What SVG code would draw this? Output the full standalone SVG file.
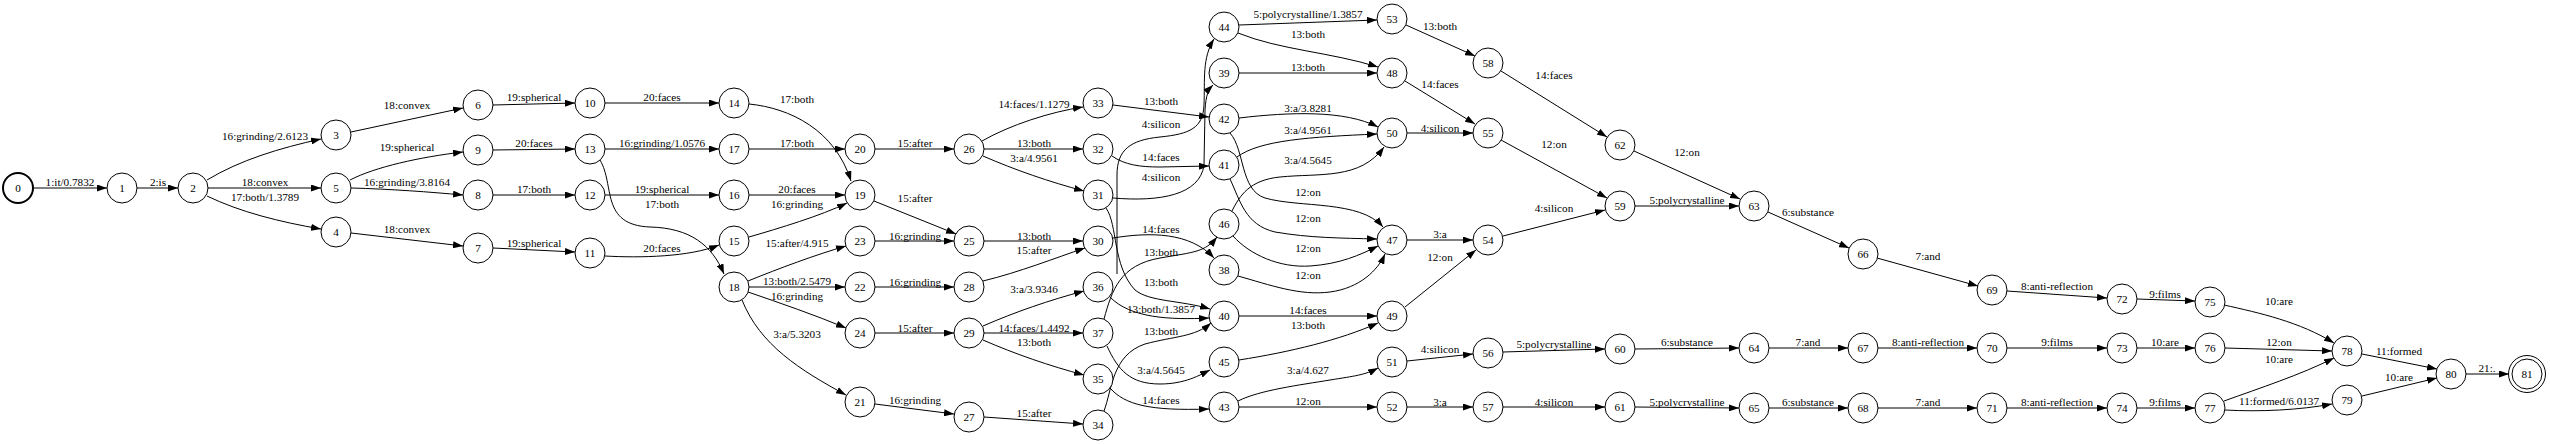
<svg xmlns="http://www.w3.org/2000/svg" width="2550" height="444" viewBox="0 0 2550 444">
<defs>
<marker id="arr" markerWidth="10" markerHeight="7" refX="10" refY="3.5" orient="auto" markerUnits="userSpaceOnUse"><path d="M0,0 L10,3.5 L0,7 z" fill="#000"/></marker>
</defs>
<style>
.n circle{fill:#fff;stroke:#000;stroke-width:1}
.n text,.e text{font-family:"Liberation Serif","Times New Roman",serif;font-size:11.2px;text-anchor:middle;fill:#000}
.e path{fill:none;stroke:#000;stroke-width:1;marker-end:url(#arr)}
</style>
<rect width="2550" height="444" fill="#fff"/>
<g id="edges">
<g class="e"><path d="M33,188 L107,188"/><text x="70" y="186">1:it/0.7832</text></g>
<g class="e"><path d="M137,188 L178,188"/><text x="158" y="186">2:is</text></g>
<g class="e"><path d="M207,180 C240,160 280,148 321,139"/><text x="265" y="140">16:grinding/2.6123</text></g>
<g class="e"><path d="M208,188 L321,188"/><text x="265" y="186">18:convex</text></g>
<g class="e"><path d="M207,196 C240,212 280,222 321,229"/><text x="265" y="201">17:both/1.3789</text></g>
<g class="e"><path d="M351,132 L463,108"/><text x="407" y="109">18:convex</text></g>
<g class="e"><path d="M350,180 C375,167 420,157 463,152"/><text x="407" y="151">19:spherical</text></g>
<g class="e"><path d="M351,188 C390,189 430,192 463,195"/><text x="407" y="186">16:grinding/3.8164</text></g>
<g class="e"><path d="M351,233 L463,246"/><text x="407" y="233">18:convex</text></g>
<g class="e"><path d="M493,105 L575,103"/><text x="534" y="101">19:spherical</text></g>
<g class="e"><path d="M493,150 L575,149"/><text x="534" y="147">20:faces</text></g>
<g class="e"><path d="M493,195 L575,195"/><text x="534" y="193">17:both</text></g>
<g class="e"><path d="M493,248 L575,252"/><text x="534" y="247">19:spherical</text></g>
<g class="e"><path d="M605,103 L719,103"/><text x="662" y="101">20:faces</text></g>
<g class="e"><path d="M605,149 L719,149"/><text x="662" y="147">16:grinding/1.0576</text></g>
<g class="e"><path d="M605,195 L719,195"/><text x="662" y="193">19:spherical</text></g>
<g class="e"><path d="M600,160 C615,185 600,225 650,227 C690,228 712,245 724,274"/><text x="662" y="208">17:both</text></g>
<g class="e"><path d="M605,256 C640,258 690,257 719,245"/><text x="662" y="252">20:faces</text></g>
<g class="e"><path d="M749,104 C790,108 835,130 851,181"/><text x="797" y="103">17:both</text></g>
<g class="e"><path d="M749,149 L845,149"/><text x="797" y="147">17:both</text></g>
<g class="e"><path d="M749,195 L845,195"/><text x="797" y="193">20:faces</text></g>
<g class="e"><path d="M749,237 C780,228 820,216 847,203"/><text x="797" y="208">16:grinding</text></g>
<g class="e"><path d="M748,281 C780,268 815,255 846,246"/><text x="797" y="247">15:after/4.915</text></g>
<g class="e"><path d="M749,287 L845,287"/><text x="797" y="285">13:both/2.5479</text></g>
<g class="e"><path d="M748,292 C780,303 815,315 846,328"/><text x="797" y="300">16:grinding</text></g>
<g class="e"><path d="M742,300 C760,345 800,370 846,395"/><text x="797" y="338">3:a/5.3203</text></g>
<g class="e"><path d="M875,149 L954,149"/><text x="915" y="147">15:after</text></g>
<g class="e"><path d="M874,201 L956,234"/><text x="915" y="202">15:after</text></g>
<g class="e"><path d="M875,241 L954,241"/><text x="915" y="240">16:grinding</text></g>
<g class="e"><path d="M875,287 L954,287"/><text x="915" y="286">16:grinding</text></g>
<g class="e"><path d="M875,333 L954,333"/><text x="915" y="332">15:after</text></g>
<g class="e"><path d="M875,404 L954,414"/><text x="915" y="404">16:grinding</text></g>
<g class="e"><path d="M982,141 C1010,125 1050,112 1083,107"/><text x="1034" y="108">14:faces/1.1279</text></g>
<g class="e"><path d="M984,149 L1083,149"/><text x="1034" y="147">13:both</text></g>
<g class="e"><path d="M983,156 C1015,170 1050,182 1084,191"/><text x="1034" y="162">3:a/4.9561</text></g>
<g class="e"><path d="M984,241 L1083,241"/><text x="1034" y="240">13:both</text></g>
<g class="e"><path d="M983,281 C1020,272 1055,258 1085,248"/><text x="1034" y="254">15:after</text></g>
<g class="e"><path d="M983,326 C1015,312 1050,300 1084,291"/><text x="1034" y="293">3:a/3.9346</text></g>
<g class="e"><path d="M984,333 L1083,333"/><text x="1034" y="332">14:faces/1.4492</text></g>
<g class="e"><path d="M983,340 C1015,354 1050,366 1084,375"/><text x="1034" y="346">13:both</text></g>
<g class="e"><path d="M984,417 L1083,424"/><text x="1034" y="417">15:after</text></g>
<g class="e"><path d="M1113,105 L1209,117"/><text x="1161" y="105">13:both</text></g>
<g class="e"><path d="M1117,274 L1117,175 C1117,150 1130,140 1160,137 C1190,134 1203,128 1204,105 C1205,80 1202,58 1214,39"/><text x="1161" y="128">4:silicon</text></g>
<g class="e"><path d="M1112,156 C1125,165 1140,167 1160,167 L1209,166"/><text x="1161" y="161">14:faces</text></g>
<g class="e"><path d="M1113,198 C1160,202 1200,195 1204,165 L1205,110 C1206,95 1208,90 1213,85"/><text x="1161" y="181">4:silicon</text></g>
<g class="e"><path d="M1113,238 C1150,232 1190,232 1214,258"/><text x="1161" y="233">14:faces</text></g>
<g class="e"><path d="M1104,319 C1112,290 1120,265 1160,258 C1195,252 1205,252 1217,237"/><text x="1161" y="256">13:both</text></g>
<g class="e"><path d="M1106,208 C1118,225 1112,265 1135,290 C1150,302 1180,300 1210,309"/><text x="1161" y="286">13:both</text></g>
<g class="e"><path d="M1110,297 C1130,318 1170,320 1209,318"/><text x="1161" y="313">13:both/1.3857</text></g>
<g class="e"><path d="M1104,411 C1112,390 1112,355 1145,344 C1175,336 1195,337 1211,323"/><text x="1161" y="335">13:both</text></g>
<g class="e"><path d="M1107,346 C1118,370 1130,384 1160,384 C1185,384 1200,375 1210,370"/><text x="1161" y="374">3:a/4.5645</text></g>
<g class="e"><path d="M1110,388 C1125,405 1150,411 1209,409"/><text x="1161" y="404">14:faces</text></g>
<g class="e"><path d="M1239,25 L1377,20"/><text x="1308" y="18">5:polycrystalline/1.3857</text></g>
<g class="e"><path d="M1238,33 C1280,50 1330,52 1378,67"/><text x="1308" y="38">13:both</text></g>
<g class="e"><path d="M1239,73 L1377,73"/><text x="1308" y="71">13:both</text></g>
<g class="e"><path d="M1239,118 C1290,112 1345,110 1378,127"/><text x="1308" y="112">3:a/3.8281</text></g>
<g class="e"><path d="M1237,157 C1260,140 1310,137 1377,134"/><text x="1308" y="134">3:a/4.9561</text></g>
<g class="e"><path d="M1232,211 C1240,195 1250,180 1280,177 C1320,173 1360,180 1384,147"/><text x="1308" y="164">3:a/4.5645</text></g>
<g class="e"><path d="M1230,133 C1245,150 1240,190 1265,198 C1300,208 1360,200 1383,227"/><text x="1308" y="196">12:on</text></g>
<g class="e"><path d="M1230,179 C1240,200 1245,225 1275,232 C1310,238 1340,238 1377,239"/><text x="1308" y="222">12:on</text></g>
<g class="e"><path d="M1233,236 C1250,255 1280,268 1310,266 C1340,264 1360,255 1378,246"/><text x="1308" y="252">12:on</text></g>
<g class="e"><path d="M1238,276 C1270,285 1300,296 1330,292 C1360,288 1378,270 1385,254"/><text x="1308" y="279">12:on</text></g>
<g class="e"><path d="M1239,316 L1377,316"/><text x="1308" y="314">14:faces</text></g>
<g class="e"><path d="M1239,360 C1290,352 1340,340 1378,323"/><text x="1308" y="329">13:both</text></g>
<g class="e"><path d="M1238,401 C1260,390 1300,385 1330,380 C1355,376 1365,375 1378,368"/><text x="1308" y="374">3:a/4.627</text></g>
<g class="e"><path d="M1239,407 L1377,407"/><text x="1308" y="405">12:on</text></g>
<g class="e"><path d="M1406,25 L1475,56"/><text x="1440" y="30">13:both</text></g>
<g class="e"><path d="M1405,81 L1475,124"/><text x="1440" y="88">14:faces</text></g>
<g class="e"><path d="M1407,133 L1473,133"/><text x="1440" y="132">4:silicon</text></g>
<g class="e"><path d="M1407,240 L1473,240"/><text x="1440" y="238">3:a</text></g>
<g class="e"><path d="M1405,307 L1476,250"/><text x="1440" y="261">12:on</text></g>
<g class="e"><path d="M1407,361 L1473,354"/><text x="1440" y="353">4:silicon</text></g>
<g class="e"><path d="M1407,407 L1473,407"/><text x="1440" y="406">3:a</text></g>
<g class="e"><path d="M1501,71 L1607,137"/><text x="1554" y="79">14:faces</text></g>
<g class="e"><path d="M1501,140 L1607,198"/><text x="1554" y="148">12:on</text></g>
<g class="e"><path d="M1503,236 L1605,210"/><text x="1554" y="212">4:silicon</text></g>
<g class="e"><path d="M1503,352 L1605,349"/><text x="1554" y="348">5:polycrystalline</text></g>
<g class="e"><path d="M1503,407 L1605,407"/><text x="1554" y="406">4:silicon</text></g>
<g class="e"><path d="M1634,151 L1740,199"/><text x="1687" y="156">12:on</text></g>
<g class="e"><path d="M1635,206 L1739,206"/><text x="1687" y="204">5:polycrystalline</text></g>
<g class="e"><path d="M1635,349 L1739,348"/><text x="1687" y="346">6:substance</text></g>
<g class="e"><path d="M1635,407 L1739,408"/><text x="1687" y="406">5:polycrystalline</text></g>
<g class="e"><path d="M1768,212 L1849,248"/><text x="1808" y="216">6:substance</text></g>
<g class="e"><path d="M1877,258 L1978,286"/><text x="1928" y="260">7:and</text></g>
<g class="e"><path d="M1769,348 L1848,348"/><text x="1808" y="346">7:and</text></g>
<g class="e"><path d="M1878,348 L1977,348"/><text x="1928" y="346">8:anti-reflection</text></g>
<g class="e"><path d="M2007,348 L2107,348"/><text x="2057" y="346">9:films</text></g>
<g class="e"><path d="M1769,408 L1848,408"/><text x="1808" y="406">6:substance</text></g>
<g class="e"><path d="M1878,408 L1977,408"/><text x="1928" y="406">7:and</text></g>
<g class="e"><path d="M2007,408 L2107,408"/><text x="2057" y="406">8:anti-reflection</text></g>
<g class="e"><path d="M2007,291 L2107,298"/><text x="2057" y="290">8:anti-reflection</text></g>
<g class="e"><path d="M2137,299 L2195,301"/><text x="2165" y="298">9:films</text></g>
<g class="e"><path d="M2137,348 L2195,348"/><text x="2165" y="346">10:are</text></g>
<g class="e"><path d="M2137,408 L2195,408"/><text x="2165" y="406">9:films</text></g>
<g class="e"><path d="M2224,305 C2260,313 2300,322 2334,343"/><text x="2279" y="305">10:are</text></g>
<g class="e"><path d="M2225,348 L2332,351"/><text x="2279" y="346">12:on</text></g>
<g class="e"><path d="M2224,401 C2260,388 2300,375 2334,358"/><text x="2279" y="363">10:are</text></g>
<g class="e"><path d="M2225,410 C2260,412 2300,410 2332,404"/><text x="2279" y="405">11:formed/6.0137</text></g>
<g class="e"><path d="M2362,354 L2437,369"/><text x="2399" y="355">11:formed</text></g>
<g class="e"><path d="M2362,396 L2437,378"/><text x="2399" y="381">10:are</text></g>
<g class="e"><path d="M2466,374 L2509,374"/><text x="2487" y="372">21:.</text></g>
</g>
<g id="n0" class="n"><circle cx="18" cy="188" r="15" style="stroke-width:2"/><text x="18" y="192">0</text></g>
<g id="n1" class="n"><circle cx="122" cy="188" r="15"/><text x="122" y="192">1</text></g>
<g id="n2" class="n"><circle cx="193" cy="188" r="15"/><text x="193" y="192">2</text></g>
<g id="n3" class="n"><circle cx="336" cy="135" r="15"/><text x="336" y="139">3</text></g>
<g id="n4" class="n"><circle cx="336" cy="232" r="15"/><text x="336" y="236">4</text></g>
<g id="n5" class="n"><circle cx="336" cy="188" r="15"/><text x="336" y="192">5</text></g>
<g id="n6" class="n"><circle cx="478" cy="105" r="15"/><text x="478" y="109">6</text></g>
<g id="n7" class="n"><circle cx="478" cy="248" r="15"/><text x="478" y="252">7</text></g>
<g id="n8" class="n"><circle cx="478" cy="195" r="15"/><text x="478" y="199">8</text></g>
<g id="n9" class="n"><circle cx="478" cy="150" r="15"/><text x="478" y="154">9</text></g>
<g id="n10" class="n"><circle cx="590" cy="103" r="15"/><text x="590" y="107">10</text></g>
<g id="n11" class="n"><circle cx="590" cy="253" r="15"/><text x="590" y="257">11</text></g>
<g id="n12" class="n"><circle cx="590" cy="195" r="15"/><text x="590" y="199">12</text></g>
<g id="n13" class="n"><circle cx="590" cy="149" r="15"/><text x="590" y="153">13</text></g>
<g id="n14" class="n"><circle cx="734" cy="103" r="15"/><text x="734" y="107">14</text></g>
<g id="n15" class="n"><circle cx="734" cy="241" r="15"/><text x="734" y="245">15</text></g>
<g id="n16" class="n"><circle cx="734" cy="195" r="15"/><text x="734" y="199">16</text></g>
<g id="n17" class="n"><circle cx="734" cy="149" r="15"/><text x="734" y="153">17</text></g>
<g id="n18" class="n"><circle cx="734" cy="287" r="15"/><text x="734" y="291">18</text></g>
<g id="n19" class="n"><circle cx="860" cy="195" r="15"/><text x="860" y="199">19</text></g>
<g id="n20" class="n"><circle cx="860" cy="149" r="15"/><text x="860" y="153">20</text></g>
<g id="n21" class="n"><circle cx="860" cy="402" r="15"/><text x="860" y="406">21</text></g>
<g id="n22" class="n"><circle cx="860" cy="287" r="15"/><text x="860" y="291">22</text></g>
<g id="n23" class="n"><circle cx="860" cy="241" r="15"/><text x="860" y="245">23</text></g>
<g id="n24" class="n"><circle cx="860" cy="333" r="15"/><text x="860" y="337">24</text></g>
<g id="n25" class="n"><circle cx="969" cy="241" r="15"/><text x="969" y="245">25</text></g>
<g id="n26" class="n"><circle cx="969" cy="149" r="15"/><text x="969" y="153">26</text></g>
<g id="n27" class="n"><circle cx="969" cy="417" r="15"/><text x="969" y="421">27</text></g>
<g id="n28" class="n"><circle cx="969" cy="287" r="15"/><text x="969" y="291">28</text></g>
<g id="n29" class="n"><circle cx="969" cy="333" r="15"/><text x="969" y="337">29</text></g>
<g id="n30" class="n"><circle cx="1098" cy="241" r="15"/><text x="1098" y="245">30</text></g>
<g id="n31" class="n"><circle cx="1098" cy="195" r="15"/><text x="1098" y="199">31</text></g>
<g id="n32" class="n"><circle cx="1098" cy="149" r="15"/><text x="1098" y="153">32</text></g>
<g id="n33" class="n"><circle cx="1098" cy="103" r="15"/><text x="1098" y="107">33</text></g>
<g id="n34" class="n"><circle cx="1098" cy="425" r="15"/><text x="1098" y="429">34</text></g>
<g id="n35" class="n"><circle cx="1098" cy="379" r="15"/><text x="1098" y="383">35</text></g>
<g id="n36" class="n"><circle cx="1098" cy="287" r="15"/><text x="1098" y="291">36</text></g>
<g id="n37" class="n"><circle cx="1098" cy="333" r="15"/><text x="1098" y="337">37</text></g>
<g id="n38" class="n"><circle cx="1224" cy="270" r="15"/><text x="1224" y="274">38</text></g>
<g id="n39" class="n"><circle cx="1224" cy="73" r="15"/><text x="1224" y="77">39</text></g>
<g id="n40" class="n"><circle cx="1224" cy="316" r="15"/><text x="1224" y="320">40</text></g>
<g id="n41" class="n"><circle cx="1224" cy="165" r="15"/><text x="1224" y="169">41</text></g>
<g id="n42" class="n"><circle cx="1224" cy="119" r="15"/><text x="1224" y="123">42</text></g>
<g id="n43" class="n"><circle cx="1224" cy="407" r="15"/><text x="1224" y="411">43</text></g>
<g id="n44" class="n"><circle cx="1224" cy="27" r="15"/><text x="1224" y="31">44</text></g>
<g id="n45" class="n"><circle cx="1224" cy="362" r="15"/><text x="1224" y="366">45</text></g>
<g id="n46" class="n"><circle cx="1224" cy="224" r="15"/><text x="1224" y="228">46</text></g>
<g id="n47" class="n"><circle cx="1392" cy="240" r="15"/><text x="1392" y="244">47</text></g>
<g id="n48" class="n"><circle cx="1392" cy="73" r="15"/><text x="1392" y="77">48</text></g>
<g id="n49" class="n"><circle cx="1392" cy="316" r="15"/><text x="1392" y="320">49</text></g>
<g id="n50" class="n"><circle cx="1392" cy="133" r="15"/><text x="1392" y="137">50</text></g>
<g id="n51" class="n"><circle cx="1392" cy="362" r="15"/><text x="1392" y="366">51</text></g>
<g id="n52" class="n"><circle cx="1392" cy="407" r="15"/><text x="1392" y="411">52</text></g>
<g id="n53" class="n"><circle cx="1392" cy="19" r="15"/><text x="1392" y="23">53</text></g>
<g id="n54" class="n"><circle cx="1488" cy="240" r="15"/><text x="1488" y="244">54</text></g>
<g id="n55" class="n"><circle cx="1488" cy="133" r="15"/><text x="1488" y="137">55</text></g>
<g id="n56" class="n"><circle cx="1488" cy="353" r="15"/><text x="1488" y="357">56</text></g>
<g id="n57" class="n"><circle cx="1488" cy="407" r="15"/><text x="1488" y="411">57</text></g>
<g id="n58" class="n"><circle cx="1488" cy="63" r="15"/><text x="1488" y="67">58</text></g>
<g id="n59" class="n"><circle cx="1620" cy="206" r="15"/><text x="1620" y="210">59</text></g>
<g id="n60" class="n"><circle cx="1620" cy="349" r="15"/><text x="1620" y="353">60</text></g>
<g id="n61" class="n"><circle cx="1620" cy="407" r="15"/><text x="1620" y="411">61</text></g>
<g id="n62" class="n"><circle cx="1620" cy="145" r="15"/><text x="1620" y="149">62</text></g>
<g id="n63" class="n"><circle cx="1754" cy="206" r="15"/><text x="1754" y="210">63</text></g>
<g id="n64" class="n"><circle cx="1754" cy="348" r="15"/><text x="1754" y="352">64</text></g>
<g id="n65" class="n"><circle cx="1754" cy="408" r="15"/><text x="1754" y="412">65</text></g>
<g id="n66" class="n"><circle cx="1863" cy="254" r="15"/><text x="1863" y="258">66</text></g>
<g id="n67" class="n"><circle cx="1863" cy="348" r="15"/><text x="1863" y="352">67</text></g>
<g id="n68" class="n"><circle cx="1863" cy="408" r="15"/><text x="1863" y="412">68</text></g>
<g id="n69" class="n"><circle cx="1992" cy="290" r="15"/><text x="1992" y="294">69</text></g>
<g id="n70" class="n"><circle cx="1992" cy="348" r="15"/><text x="1992" y="352">70</text></g>
<g id="n71" class="n"><circle cx="1992" cy="408" r="15"/><text x="1992" y="412">71</text></g>
<g id="n72" class="n"><circle cx="2122" cy="299" r="15"/><text x="2122" y="303">72</text></g>
<g id="n73" class="n"><circle cx="2122" cy="348" r="15"/><text x="2122" y="352">73</text></g>
<g id="n74" class="n"><circle cx="2122" cy="408" r="15"/><text x="2122" y="412">74</text></g>
<g id="n75" class="n"><circle cx="2210" cy="302" r="15"/><text x="2210" y="306">75</text></g>
<g id="n76" class="n"><circle cx="2210" cy="348" r="15"/><text x="2210" y="352">76</text></g>
<g id="n77" class="n"><circle cx="2210" cy="408" r="15"/><text x="2210" y="412">77</text></g>
<g id="n78" class="n"><circle cx="2347" cy="351" r="15"/><text x="2347" y="355">78</text></g>
<g id="n79" class="n"><circle cx="2347" cy="400" r="15"/><text x="2347" y="404">79</text></g>
<g id="n80" class="n"><circle cx="2451" cy="374" r="15"/><text x="2451" y="378">80</text></g>
<g id="n81" class="n"><circle cx="2527" cy="374" r="18.5"/><circle cx="2527" cy="374" r="15"/><text x="2527" y="378">81</text></g>
</svg>
